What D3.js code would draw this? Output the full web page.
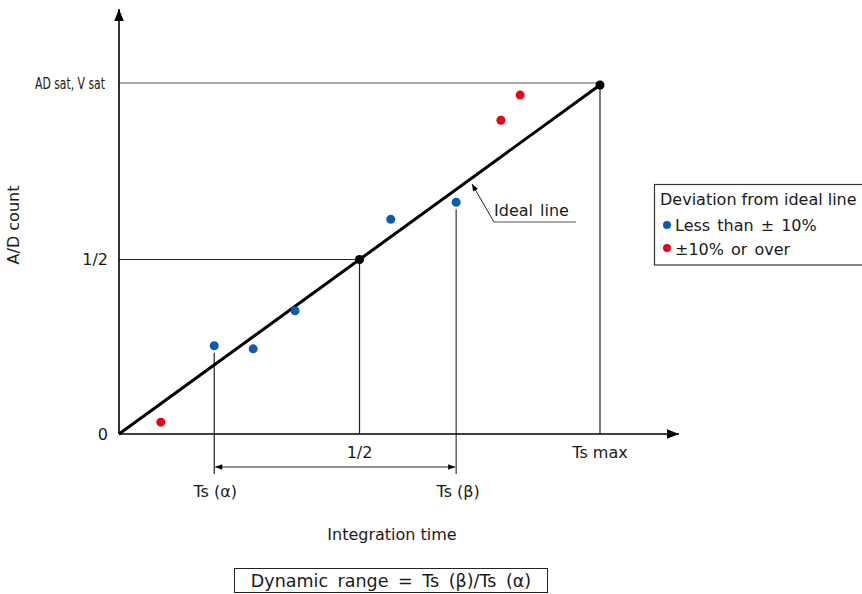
<!DOCTYPE html>
<html>
<head>
<meta charset="utf-8">
<script src="https://cdn.jsdelivr.net/npm/d3@7"></script>
<style>
  body { margin: 0; background: #fff; }
  svg { display: block; }
  text { font-family: "DejaVu Sans", Verdana, sans-serif; fill: #1a1a1a; }
</style>
</head>
<body>
<svg id="chart" width="862" height="594"></svg>
<script>
// ---- data ----
const pointX = [0.087, 0.198, 0.279, 0.366, 0.565, 0.701, 0.794, 0.834];
const pointY = [0.034, 0.253, 0.244, 0.353, 0.615, 0.664, 0.899, 0.971];
const pointCat = ["over", "less", "less", "less", "less", "less", "over", "over"];
const categories = ["less", "over"];
const categoryLabels = ["Less than \u00B1 10%", "\u00B110% or over"];
const categoryColors = ["#0a5cb0", "#e8001c"];
const xTickValues = [0.5, 1];
const xTickLabels = ["1/2", "Ts max"];
const yTickValues = [0, 0.5, 1];
const yTickLabels = ["0", "1/2", "AD sat, V sat"];
const idealX = [0, 0.5, 1];
const idealY = [0, 0.5, 1];
const tsAlpha = 0.198, tsBeta = 0.701;
const tsAlphaY = 0.253, tsBetaY = 0.664;

const FS = 16;
const svg = d3.select("#chart");
const x = d3.scaleLinear().domain([0, 1]).range([119, 600]);
const y = d3.scaleLinear().domain([0, 1]).range([434, 85]);
const color = d3.scaleOrdinal().domain(categories).range(categoryColors);

const defs = svg.append("defs");
function marker(id, w, h) {
  defs.append("marker").attr("id", id).attr("viewBox", "0 0 10 10")
    .attr("refX", 10).attr("refY", 5).attr("markerWidth", w).attr("markerHeight", h)
    .attr("markerUnits", "userSpaceOnUse").attr("orient", "auto-start-reverse")
    .append("path").attr("d", "M0,1 L10,5 L0,9 Z").attr("fill", "#000");
}
marker("axArrow", 14, 12);
marker("smArrow", 11, 7);

// guide lines
const g = svg.append("g");
g.append("line").attr("x1", x(0)).attr("x2", x(1)).attr("y1", y(1) - 2).attr("y2", y(1) - 2)
  .attr("stroke", "#555").attr("stroke-width", 1.2);
g.append("line").attr("x1", x(1)).attr("x2", x(1)).attr("y1", y(1)).attr("y2", y(0))
  .attr("stroke", "#222").attr("stroke-width", 1.2);
g.append("line").attr("x1", x(0)).attr("x2", x(0.5)).attr("y1", y(0.5)).attr("y2", y(0.5))
  .attr("stroke", "#222").attr("stroke-width", 1.2);
g.append("line").attr("x1", x(0.5)).attr("x2", x(0.5)).attr("y1", y(0.5)).attr("y2", y(0))
  .attr("stroke", "#222").attr("stroke-width", 1.2);
g.append("line").attr("x1", x(tsAlpha)).attr("x2", x(tsAlpha)).attr("y1", y(tsAlphaY) + 7).attr("y2", 474)
  .attr("stroke", "#222").attr("stroke-width", 1.2);
g.append("line").attr("x1", x(tsBeta)).attr("x2", x(tsBeta)).attr("y1", y(tsBetaY) + 7).attr("y2", 474)
  .attr("stroke", "#555").attr("stroke-width", 1.4);
g.append("line").attr("x1", x(tsAlpha) + 1).attr("x2", x(tsBeta) - 1).attr("y1", 467).attr("y2", 467)
  .attr("stroke", "#222").attr("stroke-width", 1)
  .attr("marker-start", "url(#smArrow)").attr("marker-end", "url(#smArrow)");

// axes
svg.append("line").attr("x1", x(0)).attr("x2", x(0)).attr("y1", y(0)).attr("y2", 9)
  .attr("stroke", "#000").attr("stroke-width", 1.6).attr("marker-end", "url(#axArrow)");
svg.append("line").attr("x1", x(0)).attr("x2", 679).attr("y1", y(0)).attr("y2", y(0))
  .attr("stroke", "#000").attr("stroke-width", 1.6).attr("marker-end", "url(#axArrow)");

// ideal line
svg.append("path").datum(idealX.map((d, i) => [d, idealY[i]]))
  .attr("d", d3.line().x(d => x(d[0])).y(d => y(d[1])))
  .attr("fill", "none").attr("stroke", "#000").attr("stroke-width", 3);
svg.selectAll("circle.ideal").data(idealX.slice(1)).enter().append("circle")
  .attr("class", "ideal").attr("cx", d => x(d)).attr("cy", (d, i) => y(idealY[i + 1]))
  .attr("r", 4.5).attr("fill", "#000");

// ideal line label with leader
svg.append("line").attr("x1", 494).attr("y1", 222).attr("x2", 472).attr("y2", 184)
  .attr("stroke", "#222").attr("stroke-width", 1).attr("marker-end", "url(#smArrow)");
svg.append("line").attr("x1", 494).attr("y1", 222).attr("x2", 576).attr("y2", 222)
  .attr("stroke", "#555").attr("stroke-width", 1.2);
svg.append("text").attr("x", 494).attr("y", 216).attr("font-size", FS)
  .attr("word-spacing", 2).text("Ideal line");

// data points
svg.selectAll("circle.pt").data(pointX).enter().append("circle")
  .attr("class", "pt").attr("cx", d => x(d)).attr("cy", (d, i) => y(pointY[i]))
  .attr("r", 4.5).attr("fill", (d, i) => color(pointCat[i]));

// y tick labels
svg.selectAll("text.yt").data(yTickValues).enter().append("text")
  .attr("class", "yt")
  .attr("transform", (d, i) => i === 2
      ? `translate(105,${y(d) - 1}) scale(0.7,1)`
      : `translate(108,${y(d)})`)
  .attr("dy", "0.35em").attr("text-anchor", "end")
  .attr("font-size", (d, i) => i === 2 ? 15.5 : FS)
  .text((d, i) => yTickLabels[i]);

// x tick labels
svg.selectAll("text.xt").data(xTickValues).enter().append("text")
  .attr("class", "xt").attr("x", d => x(d)).attr("y", 458)
  .attr("text-anchor", "middle").attr("font-size", FS)
  .text((d, i) => xTickLabels[i]);

// Ts labels
svg.append("text").attr("x", x(tsAlpha) + 1).attr("y", 497).attr("text-anchor", "middle")
  .attr("font-size", FS).text("Ts (\u03B1)");
svg.append("text").attr("x", x(tsBeta) + 2).attr("y", 497).attr("text-anchor", "middle")
  .attr("font-size", FS).text("Ts (\u03B2)");

// axis titles
svg.append("text").attr("x", 392).attr("y", 540).attr("text-anchor", "middle")
  .attr("font-size", FS).text("Integration time");
svg.append("text").attr("transform", "translate(19,225) rotate(-90)")
  .attr("text-anchor", "middle").attr("font-size", FS).text("A/D count");

// dynamic range box
svg.append("rect").attr("x", 234.5).attr("y", 568.5).attr("width", 313).attr("height", 24)
  .attr("fill", "none").attr("stroke", "#222").attr("stroke-width", 1);
svg.append("text").attr("x", 391).attr("y", 587).attr("text-anchor", "middle")
  .attr("font-size", 17.5).attr("word-spacing", 4)
  .text("Dynamic range = Ts (\u03B2)/Ts (\u03B1)");

// legend
const lg = svg.append("g");
lg.append("rect").attr("x", 654.5).attr("y", 184.5).attr("width", 230).attr("height", 80.5)
  .attr("fill", "#fff").attr("stroke", "#333").attr("stroke-width", 1.2);
lg.append("text").attr("x", 660).attr("y", 205).attr("font-size", FS)
  .text("Deviation from ideal line");
lg.selectAll("circle").data(categories).enter().append("circle")
  .attr("cx", 667).attr("cy", (d, i) => 225 + i * 23).attr("r", 4)
  .attr("fill", d => color(d));
lg.selectAll("text.li").data(categories).enter().append("text")
  .attr("class", "li").attr("x", 675).attr("y", (d, i) => 231 + i * 24)
  .attr("font-size", FS).attr("word-spacing", 2).text((d, i) => categoryLabels[i]);
</script>
</body>
</html>
